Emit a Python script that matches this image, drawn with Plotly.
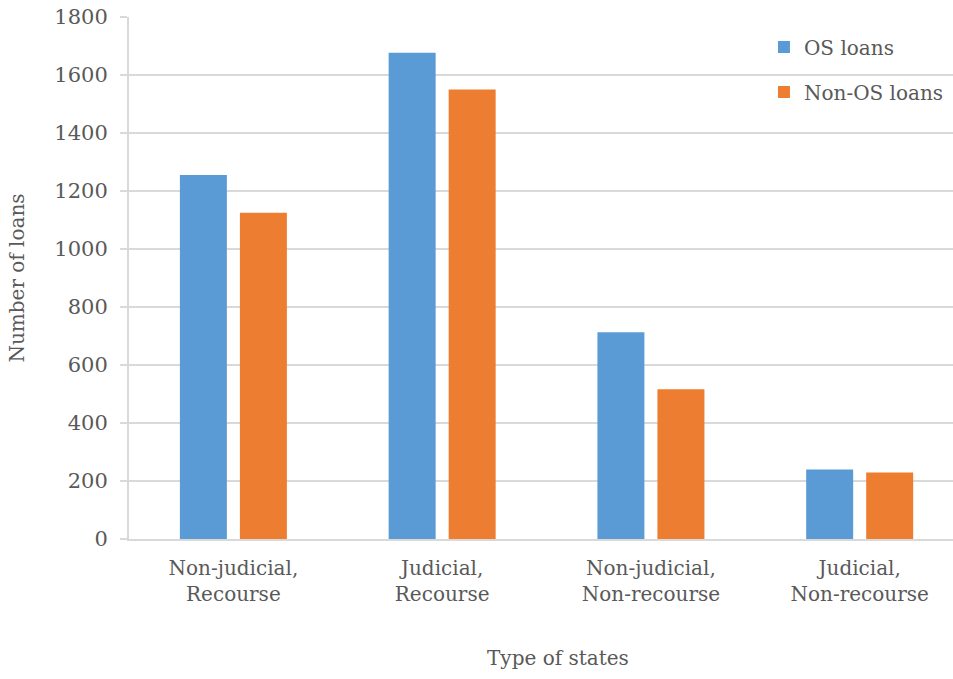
import plotly.graph_objects as go

categories = ["Non-judicial,<br>Recourse", "Judicial,<br>Recourse",
              "Non-judicial,<br>Non-recourse", "Judicial,<br>Non-recourse"]
os_loans = [1255, 1677, 713, 240]
non_os_loans = [1125, 1550, 516, 229]
y_ticks = [0, 200, 400, 600, 800, 1000, 1200, 1400, 1600, 1800]

FONT = "DejaVu Serif"
TXT = "#595959"
GRID = "#d9d9d9"

fig = go.Figure()
fig.add_trace(go.Bar(x=categories, y=os_loans, name="OS loans",
                     marker=dict(color="#5b9bd5", line=dict(width=0)),
                     legendgroup="a"))
fig.add_trace(go.Bar(x=categories, y=non_os_loans, name="Non-OS loans",
                     marker=dict(color="#ed7d31", line=dict(width=0)),
                     legendgroup="b"))

fig.update_layout(
    width=953, height=679,
    margin=dict(l=129, r=0, t=17, b=140, autoexpand=False),
    paper_bgcolor="white", plot_bgcolor="white",
    font=dict(family=FONT, size=20, color=TXT),
    barmode="group", bargap=0.425, bargroupgap=0.217,
    legend=dict(x=0.7706, y=0.98, xanchor="left", yanchor="top",
                font=dict(size=20, color=TXT), tracegroupgap=16,
                bgcolor="rgba(0,0,0,0)"),
    xaxis=dict(range=[-0.5, 3.447], showgrid=False, showline=True,
               linecolor=GRID, linewidth=2, ticks="",
               ticklabelstandoff=10,
               tickfont=dict(size=20, color=TXT)),
    yaxis=dict(range=[0, 1800], tickvals=y_ticks, showgrid=True,
               gridcolor=GRID, gridwidth=2, showline=True, linecolor=GRID,
               linewidth=2, ticks="outside", ticklen=7, tickcolor=GRID,
               tickwidth=2, zeroline=False, ticklabelstandoff=8,
               tickfont=dict(size=21, color=TXT),
               title=dict(text="Number of loans", standoff=24,
                          font=dict(size=20, color=TXT))),
    annotations=[dict(text="Type of states", xref="paper", yref="paper",
                      x=0.5206, y=-0.228, xanchor="center", yanchor="middle",
                      showarrow=False, font=dict(size=20, color=TXT))],
)

fig.write_html("out.html")
